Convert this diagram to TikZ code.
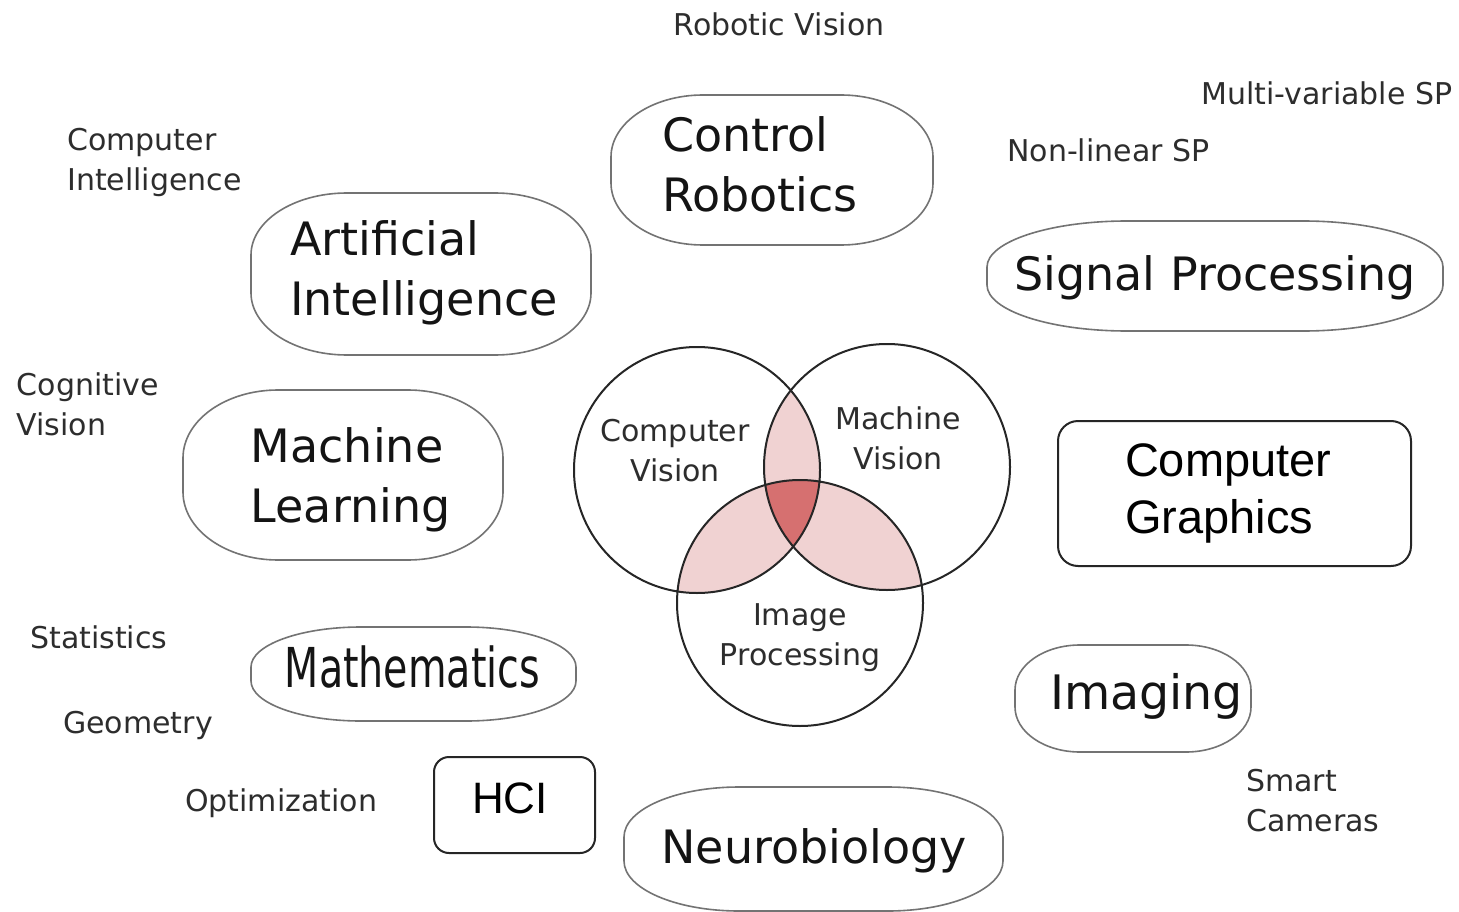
\documentclass[tikz,border=0pt]{standalone}
\usepackage{fontspec}
\usepackage{graphicx}
\setmainfont{DejaVu Sans}
\newfontfamily\arialf{Liberation Sans}
\definecolor{lens}{RGB}{240,210,210}
\definecolor{core}{RGB}{214,112,112}
\definecolor{smalltext}{RGB}{45,45,45}
\definecolor{ovalline}{RGB}{115,115,115}
\tikzset{
  big/.style={font=\fontsize{46}{60}\selectfont, text=black!92, inner sep=0pt},
  small/.style={font=\fontsize{30}{40}\selectfont, text=smalltext, inner sep=0pt},
  blobline/.style={draw=ovalline, line width=1.6pt},
  boxline/.style={draw=black!85, line width=2pt},
  vennline/.style={draw=black!85, line width=2pt},
}
% x1 y1 x2 y2 rx ry
\newcommand\blob[6]{%
  \draw[blobline] ({#1+#5},#2) -- ({#3-#5},#2)
    arc[start angle=-90,end angle=0,x radius=#5,y radius=#6]
    -- (#3,{#4-#6})
    arc[start angle=0,end angle=90,x radius=#5,y radius=#6]
    -- ({#1+#5},#4)
    arc[start angle=90,end angle=180,x radius=#5,y radius=#6]
    -- (#1,{#2+#6})
    arc[start angle=180,end angle=270,x radius=#5,y radius=#6]
    -- cycle;}
\begin{document}
\begin{tikzpicture}[x=1pt,y=-1pt]
\useasboundingbox (0,0) rectangle (1459,912);
\fill[white] (0,0) rectangle (1459,912);

% Venn diagram
\coordinate (c1) at (697,470);
\coordinate (c2) at (887,467);
\coordinate (c3) at (800,603);
\begin{scope}
  \clip (c1) circle[radius=123];
  \fill[lens] (c2) circle[radius=123];
  \fill[lens] (c3) circle[radius=123];
\end{scope}
\begin{scope}
  \clip (c2) circle[radius=123];
  \fill[lens] (c3) circle[radius=123];
\end{scope}
\begin{scope}
  \clip (c1) circle[radius=123];
  \clip (c2) circle[radius=123];
  \fill[core] (c3) circle[radius=123];
\end{scope}
\draw[vennline] (c1) circle[radius=123] (c2) circle[radius=123] (c3) circle[radius=123];

\node[small, align=center] (cvl) at (675,450.5) {Computer\\Vision};
\node[small, align=center] (mvl) at (898,438.5) {Machine\\Vision};
\node[small, align=center] (ipl) at (800,638) {Image\\Processing};

% oval outlines
\blob{611}{95}{933}{245}{92}{62}
\blob{251}{193}{591}{355}{96}{62}
\blob{987}{221}{1443}{331}{140}{46}
\blob{183}{390}{503}{560}{95}{68}
\blob{251}{627}{576}{721}{110}{40}
\blob{1015}{645}{1251}{752}{65}{45}
\blob{624}{787}{1003}{911}{115}{50}

% big labels
\node[big, align=left, anchor=west] (cr) at (662,164.5) {Control\\Robotics};
\node[big, align=left, anchor=west] (ai) at (290,273) {Artificial\\Intelligence};
\node[big] (sp) at (1215,278) {Signal Processing};
\node[big, align=left, anchor=west] (ml) at (250.5,480) {Machine\\Learning};
\node[big, font=\fontsize{55}{60}\selectfont] (math) at (412.5,667) {\scalebox{0.72}[1]{Mathematics}};
\node[big, font=\fontsize{47.5}{60}\selectfont] (img) at (1146.5,696) {Imaging};
\node[big] (nb) at (814,851) {Neurobiology};

% boxes
\node[boxline, rounded corners=20pt, font=\arialf\fontsize{47}{57}\selectfont,
      text width=219pt, align=left, inner xsep=67pt, inner ysep=0pt,
      minimum height=145pt] (cg) at (1234.5,493.5) {Computer\\Graphics};
\node[boxline, rounded corners=15pt, minimum width=161pt, minimum height=96pt,
      inner sep=0pt] (hcibox) at (514.5,805) {};
\node[font=\arialf\fontsize{44}{50}\selectfont, inner sep=0pt] (hci) at (510,798) {HCI};

% small labels
\node[small, anchor=base] (rv) at (779,36) {Robotic Vision};
\node[small, anchor=base west] (mvsp) at (1201,105) {Multi-variable SP};
\node[small, anchor=base west] (nlsp) at (1007,162) {Non-linear SP};
\node[small, align=left, anchor=west] (ci) at (67,162) {Computer\\Intelligence};
\node[small, align=left, anchor=west] (cogv) at (16.5,404) {Cognitive\\Vision};
\node[small, anchor=base west] (stat) at (30,648) {Statistics};
\node[small, anchor=base west] (geo) at (63,733) {Geometry};
\node[small, anchor=base west] (opt) at (185,811) {Optimization};
\node[small, align=left, anchor=west] (smc) at (1246,800.5) {Smart\\Cameras};
\end{tikzpicture}
\end{document}
